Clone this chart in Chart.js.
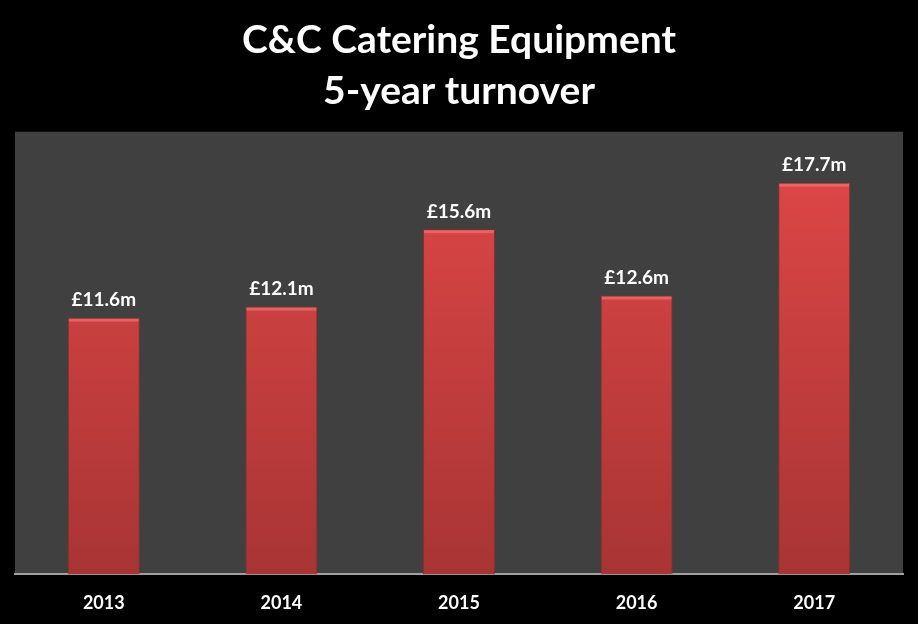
<!DOCTYPE html>
<html>
<head>
<meta charset="utf-8">
<script src="https://cdn.jsdelivr.net/npm/chart.js@4/dist/chart.umd.min.js"></script>
<style>
  html, body { margin: 0; padding: 0; background: #000; }
  #wrap { width: 918px; height: 624px; }
</style>
</head>
<body>
<div id="wrap"><canvas id="chart_canvas"></canvas></div>
<script>
const years = ['2013', '2014', '2015', '2016', '2017'];
const turnover = [11.6, 12.1, 15.6, 12.6, 17.7];
const valueLabels = ['£11.6m', '£12.1m', '£15.6m', '£12.6m', '£17.7m'];

const fontFamily = 'Lato, "Open Sans", sans-serif';

// grey plot area behind the bars
const plotBg = {
    id: 'plotBg',
    beforeDraw(chart) {
        const a = chart.chartArea;
        const c = chart.ctx;
        c.save();
        c.fillStyle = '#000';
        c.fillRect(0, 0, chart.width, chart.height);
        c.fillStyle = '#404040';
        c.fillRect(a.left, a.top, a.right - a.left, a.bottom - a.top);
        c.restore();
    }
};

// value labels above each bar, plus a light bevel on top
const barLabels = {
    id: 'barLabels',
    afterDatasetsDraw(chart) {
        const c = chart.ctx;
        const meta = chart.getDatasetMeta(0);
        c.save();
        meta.data.forEach(function (bar) {
            const w = bar.width;
            c.fillStyle = 'rgba(255,140,140,0.45)';
            c.fillRect(bar.x - w / 2 + 1, bar.y + 1, w - 2, 3);
        });
        c.fillStyle = '#ffffff';
        c.font = 'bold 19px ' + fontFamily;
        c.textAlign = 'center';
        c.textBaseline = 'bottom';
        meta.data.forEach(function (bar, i) {
            c.fillText(valueLabels[i], bar.x, bar.y - 8);
        });
        c.restore();
    }
};

function barGradient(ctx) {
    const chart = ctx.chart;
    const a = chart.chartArea;
    if (!a) return '#d94040';
    const g = chart.ctx.createLinearGradient(0, a.top, 0, a.bottom);
    g.addColorStop(0, '#e24848');
    g.addColorStop(1, '#a83434');
    return g;
}

const ctx = document.getElementById('chart_canvas');

var chartDraw = new Chart(ctx, {
    type: 'bar',
    data: {
        labels: years,
        datasets: [{
            label: 'Turnover',
            data: turnover,
            backgroundColor: barGradient,
            borderColor: '#962c2c',
            borderWidth: 1,
            barPercentage: 0.405,
            categoryPercentage: 1
        }]
    },
    options: {
        responsive: true,
        maintainAspectRatio: false,
        animation: false,
        layout: {
            padding: { left: 15, right: 15, top: 0, bottom: -8 }
        },
        plugins: {
            legend: { display: false },
            tooltip: { enabled: false },
            title: {
                display: true,
                text: ['C&C Catering Equipment', '5-year turnover'],
                color: '#ffffff',
                font: { family: fontFamily, size: 39, weight: 'bold', lineHeight: 1.33 },
                padding: { top: 14, bottom: 14 }
            }
        },
        scales: {
            x: {
                grid: { display: false, drawTicks: false },
                border: { display: true, color: '#a0a0a0', width: 2 },
                ticks: {
                    color: '#ffffff',
                    padding: 18,
                    font: { family: fontFamily, size: 18, weight: 'bold' }
                }
            },
            y: {
                display: false,
                min: 0,
                max: 20
            }
        }
    },
    plugins: [plotBg, barLabels]
});
</script>
</body>
</html>
